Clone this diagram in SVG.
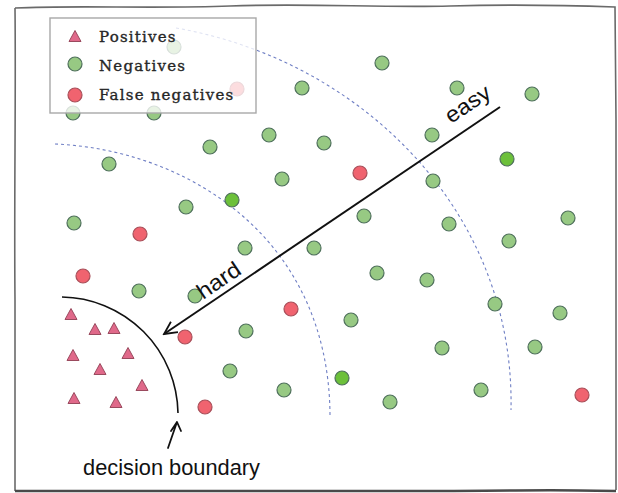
<svg xmlns="http://www.w3.org/2000/svg" width="618" height="493" viewBox="0 0 618 493">
<style>
.g{fill:#97c983;stroke:#4f705c;stroke-width:1.2}
.b{fill:#6cc03a;stroke:#4f705c;stroke-width:1.2}
.r{fill:#f0636f;stroke:#a8505a;stroke-width:1.2}
.t{fill:#e0698a;stroke:#9a4a5e;stroke-width:1}
.ring{fill:none;stroke:#6f7fc4;stroke-width:1.1;stroke-dasharray:3 3}
.hand{font-family:"Liberation Sans",Arial,sans-serif;fill:#111}
.leg{font-family:"DejaVu Serif","Liberation Serif",serif;font-size:15px;fill:#262626;stroke:#262626;stroke-width:0.35;letter-spacing:1.2px}
</style>
<defs>
<circle id="c" r="7"/>
<polygon id="tri" points="0,-5.5 6,5.5 -6,5.5"/>
<marker id="ah" viewBox="0 0 20 20" refX="18" refY="10" markerWidth="18" markerHeight="18" markerUnits="userSpaceOnUse" orient="auto">
<path d="M4,3 L18,10 L4,17" fill="none" stroke="#111" stroke-width="2" stroke-linejoin="miter"/>
</marker>
</defs>
<rect width="618" height="493" fill="#fff"/>
<g id="frame" fill="none">
<path d="M15,8 C80,5 150,9 230,6 S380,8 450,6 S560,5 615,7 L616,120 C617,200 615,300 616,490 M15,491 L15,300 C14,200 16,100 15,8" stroke="#6a6a6a" stroke-width="1.6"/>
<path d="M15,491 C150,490 300,492 430,491 S560,490 616,491" stroke="#4a4a4a" stroke-width="2.5"/>
</g>
<g id="rings">
<path class="ring" d="M176,28 C360,60 515,210 511,410"/>
<path class="ring" d="M55,144 C190,150 330,240 330,417"/>
</g>
<g id="negatives">
<use href="#c" class="g" x="302" y="88"/>
<use href="#c" class="g" x="382" y="63"/>
<use href="#c" class="g" x="457" y="88"/>
<use href="#c" class="g" x="532" y="94"/>
<use href="#c" class="g" x="109" y="164"/>
<use href="#c" class="g" x="210" y="147"/>
<use href="#c" class="g" x="269" y="135"/>
<use href="#c" class="g" x="324" y="143"/>
<use href="#c" class="g" x="432" y="135"/>
<use href="#c" class="g" x="282" y="179"/>
<use href="#c" class="g" x="433" y="181"/>
<use href="#c" class="g" x="186" y="207"/>
<use href="#c" class="g" x="364" y="216"/>
<use href="#c" class="g" x="449" y="224"/>
<use href="#c" class="g" x="568" y="218"/>
<use href="#c" class="g" x="74" y="223"/>
<use href="#c" class="g" x="245" y="248"/>
<use href="#c" class="g" x="314" y="248"/>
<use href="#c" class="g" x="509" y="241"/>
<use href="#c" class="g" x="139" y="291"/>
<use href="#c" class="g" x="195" y="296"/>
<use href="#c" class="g" x="377" y="273"/>
<use href="#c" class="g" x="427" y="280"/>
<use href="#c" class="g" x="495" y="304"/>
<use href="#c" class="g" x="560" y="313"/>
<use href="#c" class="g" x="351" y="320"/>
<use href="#c" class="g" x="246" y="331"/>
<use href="#c" class="g" x="442" y="348"/>
<use href="#c" class="g" x="535" y="347"/>
<use href="#c" class="g" x="230" y="371"/>
<use href="#c" class="g" x="284" y="390"/>
<use href="#c" class="g" x="390" y="402"/>
<use href="#c" class="g" x="481" y="390"/>
<use href="#c" class="g" x="73" y="113"/>
<use href="#c" class="g" x="154" y="113"/>
<use href="#c" class="g" x="174" y="47"/>
<use href="#c" class="b" x="507" y="159"/>
<use href="#c" class="b" x="232" y="200"/>
<use href="#c" class="b" x="342" y="378"/>
</g>
<g id="false-negatives">
<use href="#c" class="r" x="360" y="173"/>
<use href="#c" class="r" x="140" y="234"/>
<use href="#c" class="r" x="83" y="276"/>
<use href="#c" class="r" x="291" y="309"/>
<use href="#c" class="r" x="185" y="337"/>
<use href="#c" class="r" x="205" y="407"/>
<use href="#c" class="r" x="582" y="395"/>
<use href="#c" class="r" x="237" y="89"/>
</g>
<g id="positives">
<use href="#tri" class="t" x="71" y="314"/>
<use href="#tri" class="t" x="95" y="329"/>
<use href="#tri" class="t" x="114" y="328"/>
<use href="#tri" class="t" x="73" y="355"/>
<use href="#tri" class="t" x="128" y="353"/>
<use href="#tri" class="t" x="100" y="369"/>
<use href="#tri" class="t" x="142" y="385"/>
<use href="#tri" class="t" x="74" y="398"/>
<use href="#tri" class="t" x="116" y="402"/>
</g>
<g id="decision-boundary">
<path d="M62,297 A118,118 0 0 1 178,413" fill="none" stroke="#111" stroke-width="1.6"/>
<path d="M168,448 L177,422 M171,431 L177,422 L181,431" fill="none" stroke="#111" stroke-width="1.8" stroke-linecap="round" stroke-linejoin="round"/>
<text class="hand" x="83" y="475" font-size="22" textLength="177" lengthAdjust="spacingAndGlyphs">decision boundary</text>
</g>
<g id="connectors">
<line x1="500" y1="107" x2="164" y2="334" stroke="#111" stroke-width="2" marker-end="url(#ah)"/>
</g>
<g id="labels">
<text class="hand" font-size="22" transform="translate(203,300) rotate(-34)" textLength="48" lengthAdjust="spacingAndGlyphs">hard</text>
<text class="hand" font-size="22" transform="translate(451,124) rotate(-34)" textLength="50" lengthAdjust="spacingAndGlyphs">easy</text>
</g>
<g id="legend">
<rect x="50" y="18" width="206" height="95" fill="#fff" fill-opacity="0.78" stroke="#a8a8a8" stroke-width="1.4"/>
<use href="#tri" class="t" x="75" y="36"/>
<use href="#c" class="g" x="75" y="64"/>
<use href="#c" class="r" x="75" y="95"/>
<text class="leg" x="99" y="42">Positives</text>
<text class="leg" x="99" y="71">Negatives</text>
<text class="leg" x="99" y="100">False negatives</text>
</g>
</svg>
